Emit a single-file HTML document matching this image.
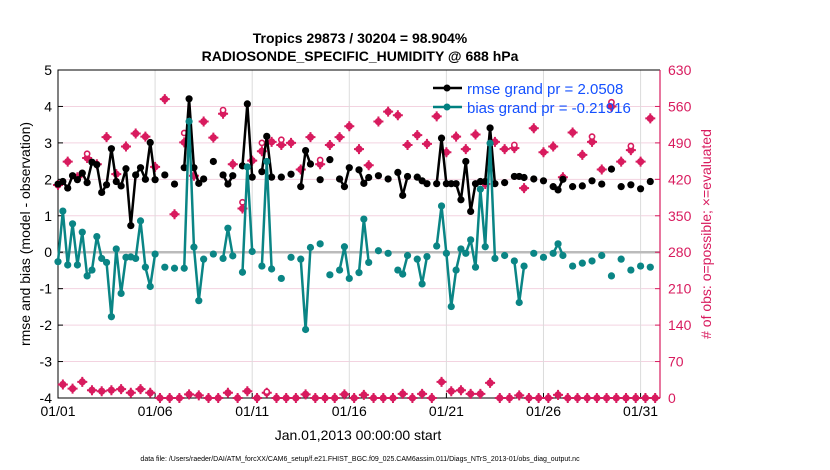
<!DOCTYPE html>
<html><head><meta charset="utf-8"><style>
body{margin:0;background:#fff;}
svg{display:block;font-family:"Liberation Sans",Arial,sans-serif;}
</style></head><body>
<svg id="chart" width="830" height="470" viewBox="0 0 830 470" xmlns="http://www.w3.org/2000/svg">
<rect width="830" height="470" fill="#fff"/>
<g id="grid"></g>
<g id="axes"></g>
<g id="series"></g>
<text x="360" y="43" text-anchor="middle" font-size="14" font-weight="bold">Tropics 29873 / 30204 = 98.904%</text>
<text x="360" y="61" text-anchor="middle" font-size="14" font-weight="bold">RADIOSONDE_SPECIFIC_HUMIDITY @ 688 hPa</text>
<text x="358" y="440" text-anchor="middle" font-size="14">Jan.01,2013 00:00:00 start</text>
<text transform="translate(30,234) rotate(-90)" text-anchor="middle" font-size="14">rmse and bias (model - observation)</text>
<text transform="translate(711,234) rotate(-90)" text-anchor="middle" font-size="14" fill="#d81b5e"># of obs: o=possible; ×=evaluated</text>
<text x="360" y="461" text-anchor="middle" font-size="7">data file: /Users/raeder/DAI/ATM_forcXX/CAM6_setup/f.e21.FHIST_BGC.f09_025.CAM6assim.011/Diags_NTrS_2013-01/obs_diag_output.nc</text>
<g id="legend">
<line x1="433" y1="88" x2="462" y2="88" stroke="#000" stroke-width="2.5"/>
<circle cx="447" cy="88" r="3.5" fill="#000"/>
<text x="467" y="94" font-size="15" fill="#1450ff">rmse grand pr = 2.0508</text>
<line x1="433" y1="107" x2="462" y2="107" stroke="#008080" stroke-width="2.5"/>
<circle cx="447" cy="107" r="3.5" fill="#008080"/>
<text x="467" y="113" font-size="15" fill="#1450ff">bias grand pr = -0.21916</text>
</g>
</svg>
<script>
const n = null;
const xTickLabels = ["01/01","01/06","01/11","01/16","01/21","01/26","01/31"];
const xTickDays = [1,6,11,16,21,26,31];
const leftTicks = [5,4,3,2,1,0,-1,-2,-3,-4];
const rightTicks = [630,560,490,420,350,280,210,140,70,0];
const rmse = [1.87,1.94,1.76,2.10,1.99,2.17,1.91,2.47,2.40,1.64,1.85,2.84,1.94,1.82,2.29,0.73,2.12,2.32,2.00,3.01,1.99,
n,2.12,n,1.87,n,2.32,4.21,2.32,1.89,2.01,n,2.49,n,2.12,1.87,2.10,n,2.37,4.07,2.06,n,2.21,3.18,2.06,n,2.06,n,2.14,n,
1.80,2.79,2.42,n,1.99,n,2.54,n,2.01,1.80,2.32,n,2.26,1.89,2.05,n,2.10,n,2.01,n,2.19,1.56,2.08,n,2.06,1.96,1.88,n,
1.88,3.13,1.88,1.88,1.88,1.44,2.49,1.12,1.88,1.94,1.94,3.41,1.88,n,1.91,n,2.08,2.08,2.05,n,2.01,n,1.96,n,1.80,1.71,2.0,n,
1.80,n,1.82,n,1.96,n,1.87,n,2.28,n,1.80,n,1.85,n,1.74,n,1.94,n];
const bias = [-0.26,1.13,-0.35,0.78,-0.35,0.55,-0.65,-0.49,0.43,-0.17,-0.28,-1.77,0.09,-1.13,-0.14,-0.13,-0.17,0.86,-0.41,-0.94,-0.05,
n,-0.41,n,-0.44,n,-0.44,3.59,0.14,-1.33,-0.19,n,-0.05,n,-0.17,0.66,-0.10,n,-0.55,2.34,0.02,n,-0.38,2.49,-0.46,n,-0.72,n,-0.14,n,
-0.19,-2.12,0.13,n,0.23,n,-0.62,n,-0.49,0.15,-0.72,n,-0.56,0.91,-0.28,n,0.04,n,-0.03,n,-0.49,-0.60,-0.09,n,-0.19,-0.87,-0.12,n,
0.17,1.27,-0.03,-1.49,-0.49,0.09,-0.03,0.34,-0.41,1.73,0.15,2.99,-0.17,n,-0.09,n,-0.24,-1.38,-0.38,n,-0.03,n,-0.14,n,-0.03,0.23,-0.09,n,
-0.38,n,-0.30,n,-0.24,n,-0.09,n,-0.65,n,-0.19,n,-0.49,n,-0.38,n,-0.41,n];
const evaluated = [409,26,454,18,424,31,461,15,449,13,501,15,430,17,483,10,508,17,502,10,444,0,574,0,353,0,491,7,427,5,
531,0,500,0,546,10,449,0,364,13,456,0,474,10,492,0,486,0,490,0,439,7,501,0,449,0,486,0,501,7,522,0,478,6,447,0,531,0,
550,0,543,8,486,0,505,8,488,0,541,31,472,13,502,15,478,8,506,8,411,29,492,0,478,0,480,5,403,0,518,0,472,0,483,6,424,0,
510,0,467,0,492,0,439,0,560,0,454,0,476,0,454,0,537,0];
const possible = [409,26,454,18,424,31,469,15,449,13,501,15,430,17,483,10,508,17,502,10,444,0,574,0,353,0,509,7,427,5,
531,0,500,0,553,10,449,0,376,13,456,0,490,12,492,0,496,0,490,0,439,7,501,0,457,0,486,0,501,7,522,0,478,6,447,0,531,0,
550,0,543,8,486,0,505,8,488,0,541,31,472,13,502,15,478,8,506,8,411,29,492,0,478,0,486,5,403,0,518,0,472,0,483,6,424,0,
510,0,467,0,502,0,439,0,568,0,454,0,484,0,454,0,537,0];

const X0=58, X1=660, Y0=70, Y1=398;
const xDay = d => X0 + (d-1)*(X1-X0)/31;
const xIdx = i => xDay(1 + i/4);
const yL = v => Y1 - (v+4)*(Y1-Y0)/9;
const yR = c => Y1 - c*(Y1-Y0)/630;
const NS="http://www.w3.org/2000/svg";
function mk(tag, attrs, parent){const e=document.createElementNS(NS,tag);for(const k in attrs)e.setAttribute(k,attrs[k]);parent.appendChild(e);return e;}
const grid=document.getElementById('grid'), axes=document.getElementById('axes'), series=document.getElementById('series');
const PINK="#d81b5e", TEAL="#0a8585";

leftTicks.forEach(v=>{
  const y=yL(v);
  if(v!==0 && v!==5 && v!==-4){const g=mk('line',{x1:X0,x2:X1,y1:y,y2:y,stroke:'#f3d3e0','stroke-width':1},grid);
  
  }
  const t=mk('line',{x1:X0,x2:X0+5,y1:y,y2:y,stroke:'#000','stroke-width':1},axes);
  
  
  const l=mk('text',{x:X0-6,y:y+5,'text-anchor':'end','font-size':14},axes);
  l.textContent=v;
  
  
});
rightTicks.forEach(c=>{
  const y=yR(c);
  const t=mk('line',{x1:X1-5,x2:X1,y1:y,y2:y,stroke:PINK,'stroke-width':1},axes);
  
  
  const l=mk('text',{x:X1+8,y:y+5,'font-size':14,fill:PINK},axes);
  l.textContent=c;
  
  
});
xTickDays.forEach((d,k)=>{
  const x=xDay(d);
  if(k>0){const g=mk('line',{x1:x,x2:x,y1:Y0,y2:Y1,stroke:'#dcdcdc','stroke-width':1},grid);
  
  }
  const t=mk('line',{x1:x,x2:x,y1:Y1,y2:Y1-5,stroke:'#000'},axes);
  
  
  const l=mk('text',{x:x,y:Y1+18,'text-anchor':'middle','font-size':14},axes);
  l.textContent=xTickLabels[k];
  
  
});
const z=mk('line',{x1:X0,x2:X1,y1:yL(0),y2:yL(0),stroke:'#bbbbbb','stroke-width':2.5},grid);


const frame=mk('path',{d:`M${X1},${Y0} H${X0} V${Y1} H${X1}`,fill:'none',stroke:'#000','stroke-width':1},axes);


const ra=mk('line',{x1:X1,x2:X1,y1:Y0,y2:Y1,stroke:PINK,'stroke-width':1.2},axes);



function drawCounts(){
  evaluated.forEach((c,i)=>{
    if(c===null)return;
    const x=xIdx(i), y=yR(c);
    const g=mk('g',{},series);
    
    
    mk('circle',{cx:x,cy:y,r:3.6,fill:PINK},g);
    mk('path',{d:`M${x-5},${y}H${x+5}M${x},${y-5}V${y+5}`,stroke:PINK,'stroke-width':2},g);
  });
  possible.forEach((c,i)=>{
    if(c===null||c===evaluated[i])return;
    const p=mk('circle',{cx:xIdx(i),cy:yR(c),r:2.6,fill:'#fff',stroke:PINK,'stroke-width':1.6},series);
    
    
  });
}
function drawSeries(arr,color,name){
  let d='';
  for(let i=0;i<arr.length-1;i++){
    if(arr[i]!==null&&arr[i+1]!==null)d+=`M${xIdx(i)},${yL(arr[i])}L${xIdx(i+1)},${yL(arr[i+1])}`;
  }
  const p=mk('path',{d:d,fill:'none',stroke:color,'stroke-width':2.5,'stroke-linejoin':'round'},series);
  
  
  arr.forEach((v,i)=>{
    if(v===null)return;
    const c=mk('circle',{cx:xIdx(i),cy:yL(v),r:3.6,fill:color},series);
    
    
  });
}
drawCounts();
drawSeries(rmse,'#000','rmse');
drawSeries(bias,TEAL,'bias');
</script>
</body></html>
